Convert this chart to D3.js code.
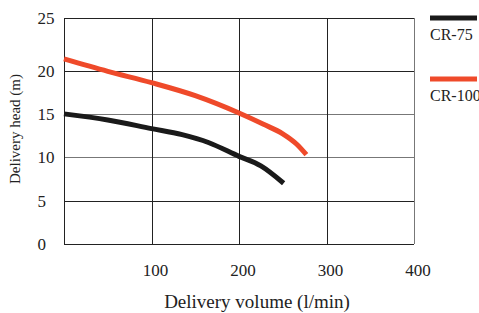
<!DOCTYPE html>
<html>
<head>
<meta charset="utf-8">
<script src="https://cdn.jsdelivr.net/npm/d3@7"></script>
<style>
  body { margin: 0; background: #fff; }
  svg { display: block; font-family: "Liberation Serif", "DejaVu Serif", serif; }
</style>
</head>
<body>
<svg id="chart" width="479" height="313"></svg>
<script>
// chart values
var xTicks = [100, 200, 300, 400];
var yTicks = [0, 5, 10, 15, 20, 25];
var seriesNames = ['CR-75', 'CR-100'];
var seriesColors = ['#1a1a1a', '#ef4a2a'];
var cr75Flow = [0, 50, 100, 135, 165, 200, 225, 251];
var cr75Head = [15, 14.3, 13.3, 12.6, 11.7, 10.1, 9.0, 7.0];
var cr100Flow = [0, 50, 100, 150, 200, 228, 250, 266, 277];
var cr100Head = [21.1, 19.9, 18.6, 17.1, 15.1, 13.8, 12.7, 11.5, 10.3];

var svg = d3.select('#chart');

var x = d3.scaleLinear().domain([0, 400]).range([64, 414]);
// the top band of the original chart is drawn taller than the others
var y = d3.scaleLinear().domain([0, 20, 25]).range([244, 70.5, 18]);

// grid
var grid = svg.append('g').attr('class', 'grid');
grid.selectAll('line.h')
  .data(yTicks)
  .enter().append('line')
  .attr('class', 'h')
  .attr('x1', x(0)).attr('x2', x(400))
  .attr('y1', d => Math.round(y(d)) + 0.5)
  .attr('y2', d => Math.round(y(d)) + 0.5)
  .attr('stroke', d => (d === 10 || d === 15) ? '#777' : '#222')
  .attr('stroke-width', 1);
grid.selectAll('line.v')
  .data([0].concat(xTicks))
  .enter().append('line')
  .attr('class', 'v')
  .attr('y1', y(0)).attr('y2', y(25))
  .attr('x1', d => Math.round(x(d)) + 0.5)
  .attr('x2', d => Math.round(x(d)) + 0.5)
  .attr('stroke', d => d === 400 ? '#777' : '#222')
  .attr('stroke-width', 1);

// tick labels
svg.append('g').selectAll('text')
  .data(yTicks)
  .enter().append('text')
  .attr('x', 37.5)
  .attr('y', d => y(d) + 6)
  .attr('font-size', 17)
  .attr('fill', '#222')
  .text(d => d);

svg.append('g').selectAll('text')
  .data(xTicks)
  .enter().append('text')
  .attr('x', d => x(d) + 4)
  .attr('y', 276)
  .attr('text-anchor', 'middle')
  .attr('font-size', 17)
  .attr('fill', '#222')
  .text(d => d);

// axis titles
svg.append('text')
  .attr('x', 257)
  .attr('y', 308)
  .attr('text-anchor', 'middle')
  .attr('font-size', 19)
  .attr('fill', '#222')
  .text('Delivery volume (l/min)');

svg.append('text')
  .attr('transform', 'translate(20,129) rotate(-90)')
  .attr('text-anchor', 'middle')
  .attr('font-size', 15)
  .attr('fill', '#222')
  .text('Delivery head (m)');

// curves
var series = [
  d3.zip(cr75Flow, cr75Head),
  d3.zip(cr100Flow, cr100Head)
];
var line = d3.line()
  .x(d => x(d[0]))
  .y(d => y(d[1]))
  .curve(d3.curveMonotoneX);

svg.append('g').selectAll('path')
  .data(series)
  .enter().append('path')
  .attr('d', line)
  .attr('fill', 'none')
  .attr('stroke', (d, i) => seriesColors[i])
  .attr('stroke-width', 5)
  .attr('stroke-linejoin', 'round');

// legend
var legend = svg.append('g').selectAll('g')
  .data(seriesNames)
  .enter().append('g')
  .attr('transform', (d, i) => 'translate(430,' + (18 + i * 61) + ')');
legend.append('rect')
  .attr('x', 0).attr('y', -2.5)
  .attr('width', 47).attr('height', 5)
  .attr('fill', (d, i) => seriesColors[i]);
legend.append('text')
  .attr('x', 0).attr('y', 22)
  .attr('font-size', 16)
  .attr('fill', '#222')
  .text(d => d);
</script>
</body>
</html>
